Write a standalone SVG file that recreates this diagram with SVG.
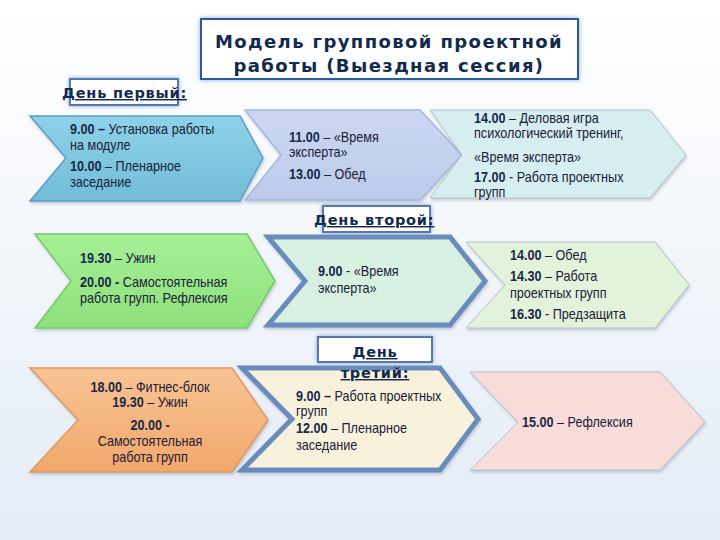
<svg xmlns="http://www.w3.org/2000/svg" width="720" height="540" viewBox="0 0 720 540">
<defs>
<linearGradient id="bg" x1="0" y1="0" x2="0" y2="1"><stop offset="0" stop-color="#ffffff"/><stop offset="1" stop-color="#e4ecf6"/></linearGradient>
<linearGradient id="gBlue" x1="0" y1="0" x2="0" y2="1"><stop offset="0" stop-color="#8ed2e8"/><stop offset="1" stop-color="#72bcd8"/></linearGradient>
<linearGradient id="gLav" x1="0" y1="0" x2="0" y2="1"><stop offset="0" stop-color="#ccd8f2"/><stop offset="1" stop-color="#bccbec"/></linearGradient>
<linearGradient id="gGreen" x1="0" y1="0" x2="0" y2="1"><stop offset="0" stop-color="#a6f096"/><stop offset="1" stop-color="#8ee07c"/></linearGradient>
<linearGradient id="gOrange" x1="0" y1="0" x2="0" y2="1"><stop offset="0" stop-color="#f8c494"/><stop offset="1" stop-color="#f2a86c"/></linearGradient>
<filter id="sh" x="-10%" y="-10%" width="120%" height="130%"><feDropShadow dx="1" dy="2" stdDeviation="1.5" flood-color="#6a7a90" flood-opacity="0.35"/></filter>
<filter id="glow" x="-10%" y="-20%" width="120%" height="140%"><feDropShadow dx="0" dy="0" stdDeviation="2" flood-color="#4a80d0" flood-opacity="0.7"/></filter>
</defs>
<style>
.t{font-family:"Liberation Sans",Arial,sans-serif;font-size:14.5px;fill:#1c2038}
.b{font-weight:bold;fill:#172848}
.title{font-family:"DejaVu Sans",Verdana,sans-serif;font-weight:bold;font-size:18px;fill:#142a4c;text-anchor:middle;letter-spacing:1.4px}
.day{font-family:"DejaVu Sans",Verdana,sans-serif;font-weight:bold;font-size:14.5px;fill:#142a4c;text-decoration:underline;letter-spacing:0.8px}
.lbl{fill:#ffffff;stroke:#5878a8;stroke-width:2}
.pale{stroke:#b8c0c8;stroke-width:1}
.thick{stroke:#6a8cbc;stroke-width:5;stroke-linejoin:miter}
</style>
<rect width="720" height="540" fill="url(#bg)"/>

<g id="title">
<rect x="201" y="19" width="377" height="60" fill="#ffffff" stroke="#2f5a9a" stroke-width="2" filter="url(#glow)"/>
<text class="title" x="389" y="48">Модель  групповой проектной</text>
<text class="title" x="389" y="72">работы (Выездная сессия)</text>
</g>

<g id="day1-label">
<rect class="lbl" x="70" y="79" width="108" height="26" filter="url(#glow)"/>
<text class="day" x="62" y="98">День первый:</text>
</g>

<g id="n1">
<path d="M30,116 L240,116 L263,158 L240,201 L30,201 L66,158 Z" fill="url(#gBlue)" stroke="#5aa0c0" stroke-width="1.5" filter="url(#sh)"/>
<g transform="translate(70,0) scale(0.87,1)">
<text class="t" x="0" y="134"><tspan class="b">9.00 –</tspan> Установка работы</text>
<text class="t" x="0" y="150">на модуле</text>
<text class="t" x="0" y="171"><tspan class="b">10.00</tspan> – Пленарное</text>
<text class="t" x="0" y="187">заседание</text>
</g>
</g>

<g id="n2">
<path d="M245,110 L420,110 L462,155 L420,200 L245,200 L281,155 Z" fill="url(#gLav)" stroke="#a8b8dc" stroke-width="1.5" filter="url(#sh)"/>
<g transform="translate(289,0) scale(0.87,1)">
<text class="t" x="0" y="142"><tspan class="b">11.00</tspan> – «Время</text>
<text class="t" x="0" y="157">эксперта»</text>
<text class="t" x="0" y="179"><tspan class="b">13.00</tspan> – Обед</text>
</g>
</g>

<g id="n3">
<path class="pale" d="M430,110 L650,110 L686,155 L650,198 L430,198 L462,155 Z" fill="#d6eef0" filter="url(#sh)"/>
<g transform="translate(474,0) scale(0.87,1)">
<text class="t" x="0" y="123"><tspan class="b">14.00</tspan> – Деловая игра</text>
<text class="t" x="0" y="138">психологический тренинг,</text>
<text class="t" x="0" y="162">«Время эксперта»</text>
<text class="t" x="0" y="182"><tspan class="b">17.00</tspan> - Работа проектных</text>
<text class="t" x="0" y="197">групп</text>
</g>
</g>

<g id="day2-label">
<rect class="lbl" x="323" y="206" width="107" height="26" filter="url(#glow)"/>
<text class="day" x="314" y="225">День второй:</text>
</g>

<g id="n4">
<path d="M35,234 L247,234 L275,281 L247,328 L35,328 L71,281 Z" fill="url(#gGreen)" stroke="#78c868" stroke-width="1.5" filter="url(#sh)"/>
<g transform="translate(80,0) scale(0.87,1)">
<text class="t" x="0" y="263"><tspan class="b">19.30</tspan> – Ужин</text>
<text class="t" x="0" y="287"><tspan class="b">20.00 -</tspan>   Самостоятельная</text>
<text class="t" x="0" y="303">работа групп. Рефлексия</text>
</g>
</g>

<g id="n5">
<path class="thick" d="M268,237 L450,237 L485,281 L450,325 L268,325 L305,281 Z" fill="#d8f0e2" filter="url(#sh)"/>
<g transform="translate(318,0) scale(0.87,1)">
<text class="t" x="0" y="276"><tspan class="b">9.00</tspan> - «Время</text>
<text class="t" x="0" y="293">эксперта»</text>
</g>
</g>

<g id="n6">
<path class="pale" d="M466,242 L655,242 L689,285 L655,328 L466,328 L505,285 Z" fill="#e3f2da" filter="url(#sh)"/>
<g transform="translate(510,0) scale(0.87,1)">
<text class="t" x="0" y="260"><tspan class="b">14.00</tspan> – Обед</text>
<text class="t" x="0" y="281"><tspan class="b">14.30</tspan> –  Работа</text>
<text class="t" x="0" y="298">проектных групп</text>
<text class="t" x="0" y="319"><tspan class="b">16.30</tspan> - Предзащита</text>
</g>
</g>

<g id="n7">
<path d="M30,368 L232,368 L268,420 L232,472 L30,472 L78,420 Z" fill="url(#gOrange)" stroke="#e09a60" stroke-width="1.5" filter="url(#sh)"/>
<g transform="translate(150,0) scale(0.87,1)">
<text class="t" x="0" y="392" text-anchor="middle"><tspan class="b">18.00</tspan> – Фитнес-блок</text>
<text class="t" x="0" y="407" text-anchor="middle"><tspan class="b">19.30</tspan> – Ужин</text>
<text class="t" x="0" y="430" text-anchor="middle"><tspan class="b">20.00 -</tspan></text>
<text class="t" x="0" y="446" text-anchor="middle">Самостоятельная</text>
<text class="t" x="0" y="462" text-anchor="middle">работа групп</text>
</g>
</g>

<g id="n8">
<path class="thick" d="M242,368 L440,368 L478,419 L440,470 L242,470 L292,419 Z" fill="#f8f2dc" filter="url(#sh)"/>
<g transform="translate(296,0) scale(0.87,1)">
<text class="t" x="0" y="401"><tspan class="b">9.00  –</tspan> Работа проектных</text>
<text class="t" x="0" y="416">групп</text>
<text class="t" x="0" y="433"><tspan class="b">12.00</tspan> – Пленарное</text>
<text class="t" x="0" y="450">заседание</text>
</g>
</g>

<g id="day3-label">
<rect class="lbl" x="318" y="337" width="114" height="25" filter="url(#glow)"/>
<text class="day" x="375" y="357" text-anchor="middle">День</text>
<text class="day" x="375" y="378" text-anchor="middle">третий:</text>
</g>

<g id="n9">
<path class="pale" d="M470,372 L660,372 L705,422 L660,470 L470,470 L518,422 Z" fill="#f8dcda" filter="url(#sh)"/>
<g transform="translate(522,0) scale(0.87,1)">
<text class="t" x="0" y="427"><tspan class="b">15.00</tspan> – Рефлексия</text>
</g>
</g>

<g id="connectors"/>
</svg>
